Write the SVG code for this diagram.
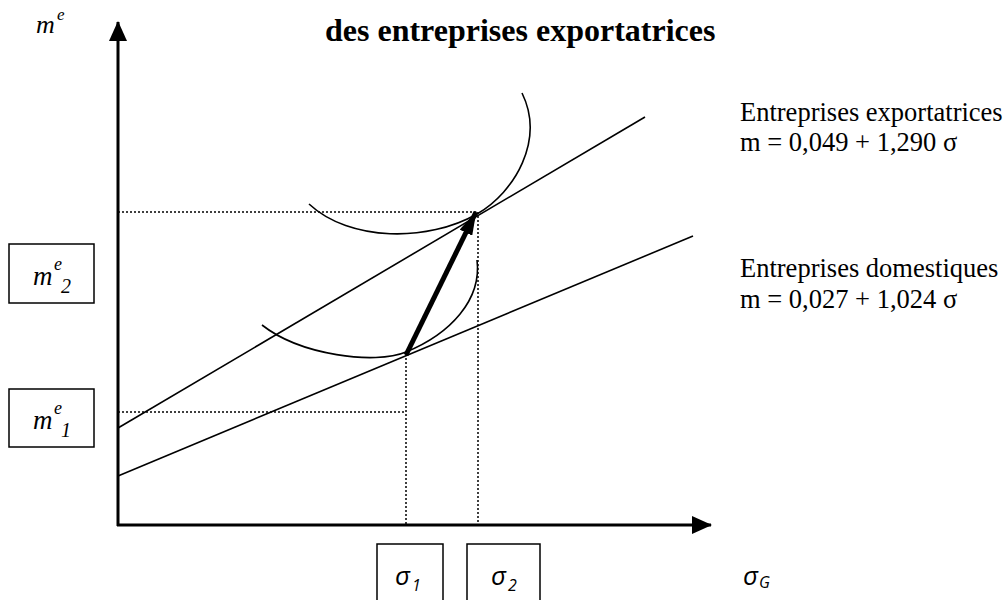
<svg xmlns="http://www.w3.org/2000/svg" width="1006" height="600" viewBox="0 0 1006 600">
<style>
.serif{font-family:"Liberation Serif","Times New Roman",serif;fill:#000}
.ital{font-family:"Liberation Serif","Times New Roman",serif;font-style:italic;fill:#000}
.sans{font-family:"Open Sans","Liberation Sans",Arial,sans-serif;font-style:italic;fill:#000}
.box{fill:#fff;stroke:#000;stroke-width:1.5}
.ln{fill:none;stroke:#000;stroke-width:1.6}
.dot{fill:none;stroke:#000;stroke-width:1.5;stroke-dasharray:2 2}
.axis{fill:none;stroke:#000;stroke-width:3}
</style>
<defs>
<marker id="ah" markerUnits="userSpaceOnUse" markerWidth="20" markerHeight="18" viewBox="0 0 20 18" refX="19" refY="9" orient="auto">
<path d="M0,0 L20,9 L0,18 Z" fill="#000"/>
</marker>
<marker id="ah2" markerUnits="userSpaceOnUse" markerWidth="24" markerHeight="14" viewBox="0 0 24 14" refX="23" refY="7" orient="auto">
<path d="M0,0 L24,7 L0,14 Z" fill="#000"/>
</marker>
</defs>
<rect width="1006" height="600" fill="#fff"/>
<text class="serif" x="325" y="41" font-size="32" font-weight="bold">des entreprises exportatrices</text>

<g id="connectors">
<line class="axis" x1="118" y1="526" x2="118" y2="22" marker-end="url(#ah)"/>
<line class="axis" x1="117" y1="525" x2="711" y2="525" marker-end="url(#ah)"/>
<line class="dot" x1="118" y1="212" x2="478" y2="212"/>
<line class="dot" x1="478" y1="212" x2="478" y2="524"/>
<line class="dot" x1="118" y1="412" x2="406" y2="412"/>
<line class="dot" x1="406" y1="354" x2="406" y2="524"/>
<line class="ln" x1="118" y1="428" x2="645" y2="117"/>
<line class="ln" x1="118" y1="476" x2="693" y2="236"/>
<path class="ln" d="M309,204 C350,242 428,242 477,214 C515,192 545,140 522,93"/>
<path class="ln" d="M262,325 C300,355 375,365 406,352 C450,334 482,300 477,260"/>
<line x1="406" y1="355" x2="476" y2="212" stroke="#000" stroke-width="5" marker-end="url(#ah2)"/>
</g>

<g id="label-me">
<text class="ital" x="36" y="33" font-size="26">m</text>
<text class="ital" x="57" y="20" font-size="17">e</text>
</g>

<g id="node-me2">
<rect class="box" x="9" y="244" width="85" height="59"/>
<text class="ital" x="33" y="285" font-size="27">m</text>
<text class="ital" x="54" y="270" font-size="18">e</text>
<text class="ital" x="61" y="293" font-size="20">2</text>
</g>

<g id="node-me1">
<rect class="box" x="9" y="389" width="85" height="58"/>
<text class="ital" x="33" y="429" font-size="27">m</text>
<text class="ital" x="54" y="414" font-size="18">e</text>
<text class="ital" x="61" y="437" font-size="20">1</text>
</g>

<g id="node-sigma1">
<rect class="box" x="377" y="544" width="66" height="70"/>
<text class="sans" x="395" y="585" font-size="26">σ</text>
<text class="sans" x="412" y="591" font-size="16">1</text>
</g>

<g id="node-sigma2">
<rect class="box" x="467" y="544" width="73" height="70"/>
<text class="sans" x="491" y="585" font-size="26">σ</text>
<text class="sans" x="508" y="591" font-size="16">2</text>
</g>

<g id="label-sigmaG">
<text class="sans" x="743" y="585" font-size="26">σ</text>
<text class="sans" x="759" y="588" font-size="16">G</text>
</g>

<g id="label-export">
<text class="serif" x="740" y="121" font-size="26.5">Entreprises exportatrices</text>
<text class="serif" x="740" y="151" font-size="26.5">m = 0,049 + 1,290 σ</text>
</g>

<g id="label-domestic">
<text class="serif" x="740" y="277" font-size="26.5">Entreprises domestiques</text>
<text class="serif" x="740" y="308" font-size="26.5">m = 0,027 + 1,024 σ</text>
</g>
</svg>
